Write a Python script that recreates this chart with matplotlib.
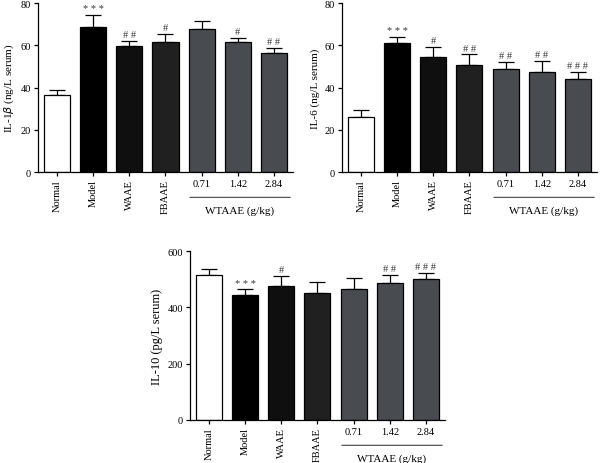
import matplotlib

matplotlib.use("Agg")
import matplotlib.pyplot as plt  # noqa: E402

plt.rcParams["font.family"] = ["Liberation Serif", "DejaVu Serif"]

groups = ["Normal", "Model", "WAAE", "FBAAE", "0.71", "1.42", "2.84"]
colors = ["#ffffff", "#000000", "#0f0f0f", "#202020", "#484c50", "#484c50", "#484c50"]

il1b_mean = [36.4, 68.6, 59.5, 61.4, 67.7, 61.8, 56.5]
il1b_err = [2.4, 6.0, 2.8, 4.1, 3.8, 1.9, 2.2]
il1b_sig = ["", "***", "##", "#", "", "#", "##"]

il6_mean = [26.0, 60.9, 54.3, 50.9, 48.7, 47.5, 44.0]
il6_err = [3.3, 3.3, 5.0, 4.8, 3.5, 5.2, 3.5]
il6_sig = ["", "***", "#", "##", "##", "##", "###"]

il10_mean = [516, 443, 476, 451, 465, 488, 501]
il10_err = [22, 21, 35, 40, 38, 27, 21]
il10_sig = ["", "***", "#", "", "", "##", "###"]


def panel(fig, rect, mean, err, sig, ymax, ystep, ylabel, label_size=8):
    ax = fig.add_axes(rect)
    x = list(range(len(groups)))
    ax.bar(x, mean, width=0.72, color=colors, edgecolor="black", linewidth=0.9, zorder=2)
    ax.errorbar(x, mean, yerr=[[0] * len(err), err], fmt="none", ecolor="black",
                elinewidth=0.9, capsize=5.5, capthick=0.9, zorder=1)
    pad = ymax * 0.01
    for xi, m, e, s in zip(x, mean, err, sig):
        if s:
            ax.text(xi, m + e + pad, " ".join(s), ha="center", va="bottom",
                    fontsize=7.5, color="#3a3a3a")
    ax.set_xlim(-0.525, len(groups) - 0.475)
    ax.set_ylim(0, ymax)
    ax.set_yticks(range(0, ymax + 1, ystep))
    ax.set_xticks(x)
    ax.set_xticklabels(groups)
    for lab in ax.get_xticklabels()[:4]:
        lab.set_rotation(90)
    ax.tick_params(labelsize=7.5, length=3, width=0.9, pad=2)
    for sp in ("top", "right"):
        ax.spines[sp].set_visible(False)
    for sp in ("left", "bottom"):
        ax.spines[sp].set_linewidth(0.9)
    ax.set_ylabel(ylabel, fontsize=label_size, labelpad=3)
    # group bracket for WTAAE doses
    ax.annotate("", xy=(3.6, -0.15), xytext=(6.525, -0.15), xycoords=("data", "axes fraction"),
                arrowprops=dict(arrowstyle="-", color="#555555", lw=0.9), annotation_clip=False)
    ax.text(5.05, -0.2, "WTAAE (g/kg)", transform=ax.get_xaxis_transform(),
            ha="center", va="top", fontsize=8)
    return ax


fig = plt.figure(figsize=(6.01, 4.64), dpi=100)
panel(fig, [0.0632, 0.627, 0.4243, 0.364], il1b_mean, il1b_err, il1b_sig, 80, 20,
      r"IL-1$\it{\beta}$ (ng/L serum)")
panel(fig, [0.569, 0.627, 0.4243, 0.364], il6_mean, il6_err, il6_sig, 80, 20,
      "IL-6 (ng/L serum)")
panel(fig, [0.316, 0.0927, 0.4243, 0.364], il10_mean, il10_err, il10_sig, 600, 200,
      "IL-10 (pg/L serum)", label_size=9)
fig.savefig("out.png", dpi=100)
